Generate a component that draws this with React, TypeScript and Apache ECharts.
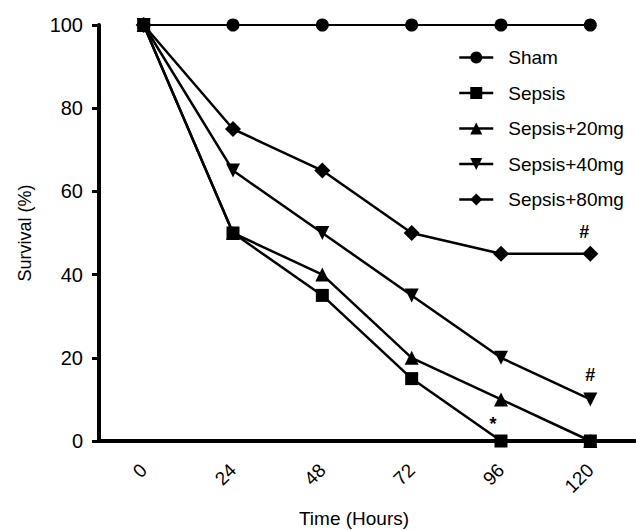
import React, { useEffect, useRef } from "react";
import * as echarts from "echarts";

const hours = ["0", "24", "48", "72", "96", "120"];
const sham = [100, 100, 100, 100, 100, 100];
const sepsis = [100, 50, 35, 15, 0, 0];
const sepsis20 = [100, 50, 40, 20, 10, 0];
const sepsis40 = [100, 65, 50, 35, 20, 10];
const sepsis80 = [100, 75, 65, 50, 45, 45];
const yTicks = [0, 20, 40, 60, 80, 100];

const FONT = "'Liberation Sans', Arial, Helvetica, sans-serif";

function withMark(arr: number[], idx: number, mark: string, offset: number[]) {
  return arr.map((v, i) =>
    i === idx
      ? {
          value: v,
          label: {
            show: true,
            position: "top",
            distance: 8,
            offset,
            formatter: mark,
            color: "#000",
            fontSize: 18,
            fontWeight: "bold",
            fontFamily: FONT,
          },
        }
      : v
  );
}

export default function App() {
  const ref = useRef<HTMLDivElement>(null);
  useEffect(() => {
    document.body.style.margin = "0";
    if (!ref.current) return;
    const chart = echarts.init(ref.current, undefined, { renderer: "svg" });
    const lineBase = (name: string, data: any[], symbol: string, size: number, z = 2, width = 2.5) => ({
      name,
      type: "line",
      data,
      symbol,
      symbolSize: size,
      z,
      lineStyle: { color: "#000", width },
      itemStyle: { color: "#000" },
      emphasis: { disabled: true },
    });
    chart.setOption({
      animation: false,
      backgroundColor: "#fff",
      textStyle: { fontFamily: FONT },
      grid: { left: 99, right: 1, top: 25, bottom: 89, containLabel: false },
      legend: {
        orient: "vertical",
        left: 453,
        top: 43,
        itemWidth: 34,
        itemHeight: 15,
        itemGap: 16.5,
        lineStyle: { width: 2.5 },
        textStyle: { fontSize: 19, color: "#000", fontFamily: FONT, padding: [0, 0, 0, 10] },
        data: ["Sham", "Sepsis", "Sepsis+20mg", "Sepsis+40mg", "Sepsis+80mg"],
      },
      xAxis: {
        type: "category",
        data: hours,
        boundaryGap: true,
        axisLine: { lineStyle: { color: "#000", width: 4 } },
        axisTick: { alignWithLabel: true, length: 7, lineStyle: { color: "#000", width: 3 } },
        axisLabel: { rotate: 45, margin: 26, fontSize: 19, color: "#000", fontFamily: FONT },
        splitLine: { show: false },
      },
      yAxis: {
        type: "value",
        min: yTicks[0],
        max: yTicks[yTicks.length - 1],
        interval: 20,
        axisLine: { show: true, lineStyle: { color: "#000", width: 4 } },
        axisTick: { show: true, length: 7, lineStyle: { color: "#000", width: 3 } },
        axisLabel: { margin: 16, fontSize: 20, color: "#000", fontFamily: FONT },
        splitLine: { show: false },
      },
      graphic: [
        {
          type: "text",
          x: 25,
          y: 233,
          rotation: Math.PI / 2,
          style: {
            text: "Survival (%)",
            fontSize: 18,
            fill: "#000",
            fontFamily: FONT,
            align: "center",
            verticalAlign: "middle",
          },
        },
        {
          type: "text",
          x: 354,
          y: 518,
          style: {
            text: "Time (Hours)",
            fontSize: 19,
            fill: "#000",
            fontFamily: FONT,
            align: "center",
            verticalAlign: "middle",
          },
        },
      ],
      series: [
        lineBase("Sham", sham, "circle", 13, 2, 2),
        lineBase("Sepsis", withMark(sepsis, 4, "*", [-8, 6]), "rect", 13, 4),
        lineBase("Sepsis+20mg", sepsis20, "triangle", 14, 2),
        lineBase("Sepsis+40mg", withMark(sepsis40, 5, "#", [0, 0]), "path://M0,0 L10,0 L5,9 Z", 14, 2),
        lineBase("Sepsis+80mg", withMark(sepsis80, 5, "#", [-6, 3]), "diamond", 16, 2),
      ],
    });
    return () => chart.dispose();
  }, []);
  return <div ref={ref} style={{ width: 636, height: 530 }} />;
}
